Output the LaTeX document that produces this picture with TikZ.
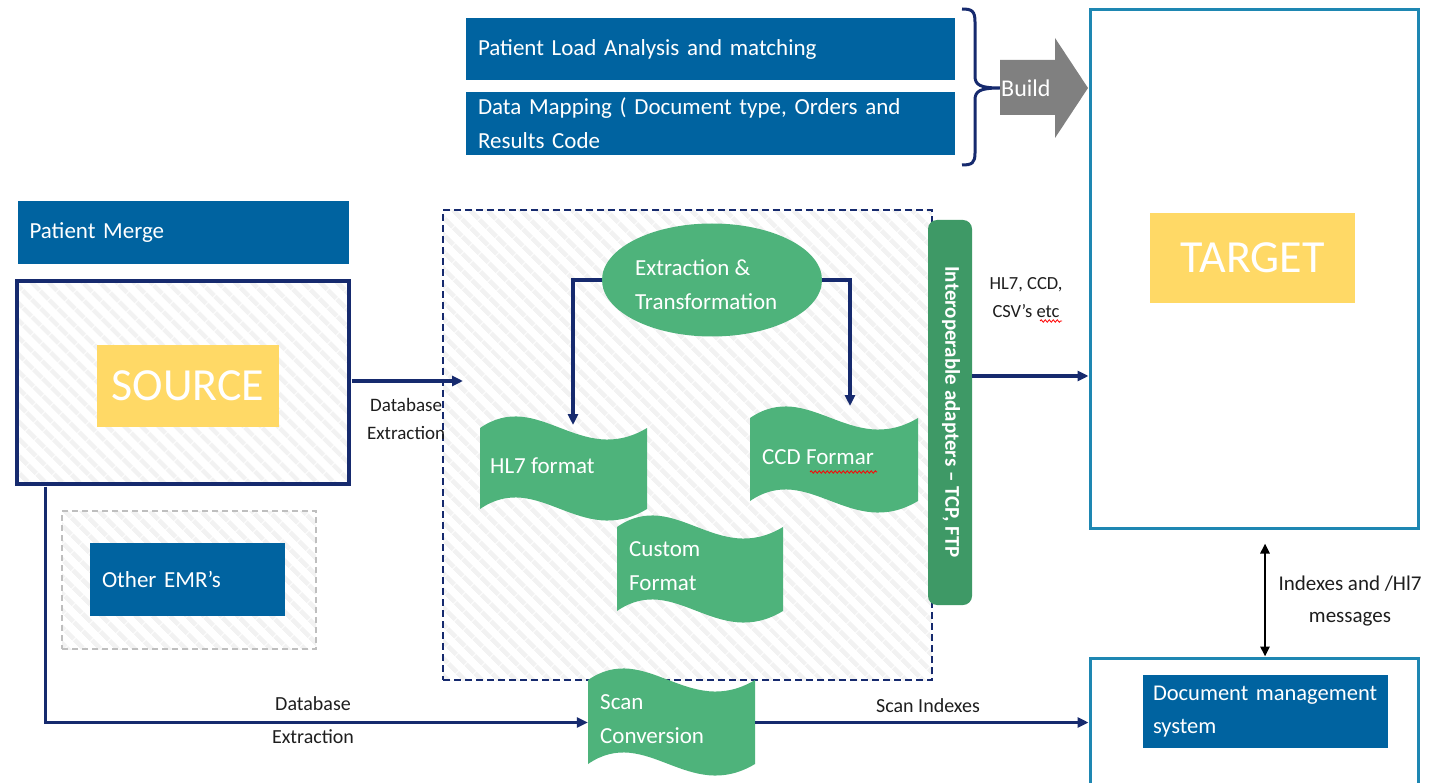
\documentclass[tikz,border=0pt]{standalone}
\usepackage{fontspec}
\setmainfont{Carlito}
\usetikzlibrary{shapes.geometric,arrows.meta,patterns.meta,decorations.pathmorphing,calc}
\definecolor{dmblue}{RGB}{0,99,160}
\definecolor{dmyellow}{RGB}{255,217,102}
\definecolor{dmgreen}{RGB}{78,179,123}
\definecolor{dmdkgreen}{RGB}{62,153,102}
\definecolor{dmnavy}{RGB}{22,42,110}
\definecolor{dmteal}{RGB}{30,135,178}
\definecolor{dmgray}{RGB}{128,128,128}
\definecolor{dmtext}{RGB}{30,30,30}
\newcommand\wavebox[5]{%
  \fill[dmgreen] (#2,#3+10) .. controls (#2+0.35*#4,#3-30) and (#2+0.6*#4,#3+50) .. (#2+#4,#3+10)
    -- (#2+#4,#3+#5-11) .. controls (#2+0.6*#4,#3+#5+29) and (#2+0.35*#4,#3+#5-51) .. (#2,#3+#5-11) -- cycle;
  \node[inner sep=0pt, minimum width=#4, minimum height=#5] (#1) at (#2+#4/2,#3+#5/2) {};
}
\begin{document}
\begin{tikzpicture}[x=1pt,y=-1pt,
  bigfont/.style={font=\fontsize{23}{34}\selectfont},
  lblfont/.style={font=\fontsize{20}{33}\selectfont},
  bluebox/.style={fill=dmblue, text=white, inner xsep=12pt, inner ysep=0pt, align=left, bigfont},
  yellowbox/.style={fill=dmyellow, text=white, inner sep=0pt, font=\fontsize{46}{50}\selectfont},
  hatch/.style={pattern={Lines[angle=-45,distance=13pt,line width=5pt]}, pattern color=black!5},
  arr/.style={draw=dmnavy, line width=3.2pt, -{Triangle[length=11pt,width=10pt]}},
  lbl/.style={text=dmtext, lblfont, align=center, inner sep=0pt},
  wtxt/.style={text=white, bigfont, align=left, inner sep=0pt, anchor=west},
  squig/.style={draw=red, line width=0.8pt, decorate, decoration={snake, amplitude=1.2pt, segment length=4pt}}
]
\useasboundingbox (0,0) rectangle (1448,783);
\fill[white] (0,0) rectangle (1448,783);

% top blue boxes
\node[bluebox, minimum width=489, minimum height=62, text width=465] (plam) at (710.5,49) {Patient Load Analysis and matching};
\node[bluebox, minimum width=489, minimum height=63, text width=465] (dmap) at (710.5,123.5) {Data Mapping ( Document type, Orders and\\Results Code};

% brace
\draw[dmnavy, line width=3pt] (962,9) .. controls (972,9) and (975,11) .. (975,22) -- (975,76) .. controls (975,85) and (980,88) .. (1000,88)
  .. controls (980,88) and (975,91) .. (975,100) -- (975,153) .. controls (975,163) and (972,165) .. (962,165);

% Build arrow
\fill[dmgray] (1000,60) -- (1055,60) -- (1055,38) -- (1088,88) -- (1055,138) -- (1055,115) -- (1000,115) -- cycle;
\node[text=white, font=\fontsize{24}{26}\selectfont, anchor=west, inner sep=0pt] (build) at (1001,88) {Build};

% target
\node[draw=dmteal, line width=3pt, minimum width=328, minimum height=518, inner sep=0pt] (target) at (1254,269) {};
\node[yellowbox, minimum width=205, minimum height=90] (tgtlbl) at (1252.5,258) {TARGET};

% patient merge
\node[bluebox, minimum width=331, minimum height=63, text width=307] (pmerge) at (183,232.5) {Patient Merge};

% source
\node[draw=dmnavy, line width=3.5pt, hatch, minimum width=332, minimum height=203, inner sep=0pt] (source) at (183,382.5) {};
\node[yellowbox, minimum width=182, minimum height=82] (srclbl) at (188,386) {SOURCE};

% other EMRs
\node[draw=black!25, dash pattern=on 6pt off 4pt, line width=1.3pt, hatch, minimum width=254, minimum height=138, inner sep=0pt] (emrarea) at (189,580) {};
\node[bluebox, minimum width=195, minimum height=73, text width=171] (emr) at (187.5,579.5) {Other EMR’s};

% central dashed area
\node[draw=dmnavy, dash pattern=on 7pt off 4pt, line width=1.5pt, hatch, minimum width=489, minimum height=470, inner sep=0pt] (core) at (687.5,445) {};

% ellipse
\node[ellipse, fill=dmgreen, minimum width=220, minimum height=113, inner sep=0pt] (ell) at (712,280) {};
\node[wtxt] (ellt) at (635,285) {Extraction \&\\Transformation};

% wave shapes
\wavebox{hl7}{480}{418}{167}{102}
\node[wtxt] (hl7t) at (490,466) {HL7 format};
\wavebox{ccd}{750}{408}{168}{104}
\node[wtxt] (ccdt) at (762,457) {CCD Formar};
\draw[squig] (810,472) -- (877,472);
\wavebox{cust}{617}{517}{166}{105}
\node[wtxt] (custt) at (629,566) {Custom\\Format};
\wavebox{scan}{588}{670}{167}{105}
\node[wtxt] (scant) at (600,719) {Scan\\Conversion};

% adapters bar
\node[fill=dmdkgreen, rounded corners=9pt, minimum width=44, minimum height=385, inner sep=0pt] (adapt) at (950,412.5) {};
\node[rotate=-90, text=white, font=\bfseries\fontsize{21}{24}\selectfont, inner sep=0pt] (adaptt) at (951,412) {Interoperable adapters – TCP, FTP};

% document management
\node[draw=dmteal, line width=3pt, minimum width=328, minimum height=132, inner sep=0pt] (dms) at (1254,724) {};
\node[bluebox, font=\fontsize{22.5}{33}\selectfont, inner xsep=10pt, minimum width=245, minimum height=73, text width=225] (dmslbl) at (1265.5,711.5) {Document management\\system};

% connectors
\coordinate (dbin) at (463,381);
\coordinate (hl7in) at (573,425);
\coordinate (ccdin) at (850,406);
\coordinate (adrow) at (0,376);
\draw[arr] (source.east |- dbin) -- (dbin);
\node[lbl, font=\fontsize{19}{28}\selectfont, anchor=north west] (dblbl1) at (367,398) {Database\\Extraction};
\draw[arr] (ell.west) -| (hl7in);
\draw[arr] (ell.east) -| (ccdin);
\draw[arr] (adapt.east |- adrow) -- (target.west |- adrow);
\node[lbl, font=\fontsize{18.5}{28}\selectfont] (fmtlbl) at (1026,298) {HL7, CCD,\\CSV’s etc};
\draw[squig] (1040,321) -- (1062,321);
\draw[arr] ([xshift=31pt]source.south west) |- (scan.west);
\node[lbl] (dblbl2) at (313,720) {Database\\Extraction};
\draw[arr] (scan.east) -- (dms.west |- scan.east);
\node[lbl, anchor=south] (scanlbl) at (928,713) {Scan Indexes};
\draw[line width=2.5pt, {Triangle[length=10pt,width=9pt]}-{Triangle[length=10pt,width=9pt]}] ([xshift=11pt,yshift=-14pt]target.south) -- ([xshift=11pt]dms.north);
\node[lbl, font=\fontsize{21}{32}\selectfont] (idxlbl) at (1350,601) {Indexes and /Hl7\\messages};
\end{tikzpicture}
\end{document}
